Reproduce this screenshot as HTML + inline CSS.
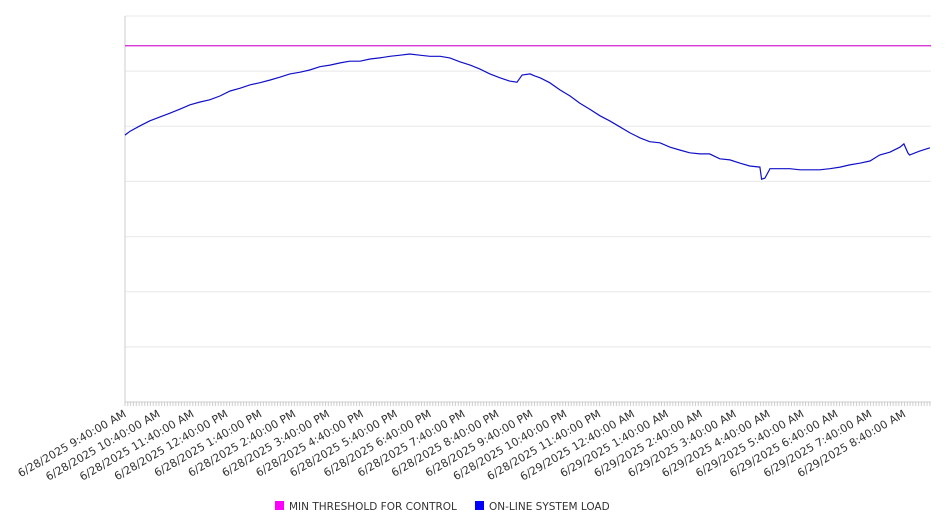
<!DOCTYPE html>
<html><head><meta charset="utf-8"><style>
body{margin:0;background:#fff;font-family:"DejaVu Sans","Liberation Sans",sans-serif}
</style></head><body>
<svg id="chart" width="946" height="526" xmlns="http://www.w3.org/2000/svg" font-family="DejaVu Sans, Liberation Sans, sans-serif"></svg>
<script>
const times=[0,9,27,44,62,80,97,115,133,150,168,186,204,221,239,257,274,292,310,327,345,363,381,398,416,434,451,469,487,504,522,540,558,575,593,611,628,646,664,681,694,703,717,726,735,752,770,788,805,823,841,858,876,894,912,929,947,965,982,1000,1018,1035,1053,1071,1089,1106,1124,1127,1133,1142,1159,1177,1195,1212,1230,1248,1266,1283,1301,1319,1336,1354,1372,1379,1386,1389,1407,1425];
const loadValues=[484,491,501,510,517,524,531,539,544,548,555,564,569,575,579,584,589,595,598,602,608,611,615,618,618,622,624,627,629,631,629,627,627,624,617,611,604,595,588,582,580,593,595,591,588,579,566,555,542,531,519,510,499,488,479,472,470,462,457,452,450,450,441,439,433,428,426,404,406,423,423,423,421,421,421,423,426,430,433,437,448,453,462,468,452,448,455,461];
const threshold=646;
const tickLabels=["6/28/2025 9:40:00 AM","6/28/2025 10:40:00 AM","6/28/2025 11:40:00 AM","6/28/2025 12:40:00 PM","6/28/2025 1:40:00 PM","6/28/2025 2:40:00 PM","6/28/2025 3:40:00 PM","6/28/2025 4:40:00 PM","6/28/2025 5:40:00 PM","6/28/2025 6:40:00 PM","6/28/2025 7:40:00 PM","6/28/2025 8:40:00 PM","6/28/2025 9:40:00 PM","6/28/2025 10:40:00 PM","6/28/2025 11:40:00 PM","6/29/2025 12:40:00 AM","6/29/2025 1:40:00 AM","6/29/2025 2:40:00 AM","6/29/2025 3:40:00 AM","6/29/2025 4:40:00 AM","6/29/2025 5:40:00 AM","6/29/2025 6:40:00 AM","6/29/2025 7:40:00 AM","6/29/2025 8:40:00 AM"];
const yTicks=[0,100,200,300,400,500,600,700];

const L=125,R=931,T=16,B=402,XMAX=1427,YMAX=700;
const xs=m=>L+(m/XMAX)*(R-L);
const ys=v=>B-(v/YMAX)*(B-T);
const svg=document.getElementById('chart');
const NS='http://www.w3.org/2000/svg';
function mk(tag,attrs,parent){const e=document.createElementNS(NS,tag);for(const k in attrs)e.setAttribute(k,attrs[k]);(parent||svg).appendChild(e);return e;}

yTicks.forEach(v=>{if(v===0)return;const g=mk('line',{x1:L,x2:R,y1:ys(v),y2:ys(v),stroke:'#e8e8e8','stroke-width':1});

});

const ax=mk('line',{x1:L,x2:L,y1:T,y2:B,stroke:'#ccc'});


const bx=mk('line',{x1:L,x2:R,y1:B,y2:B,stroke:'#ccc'});


for(let m=0;m<=XMAX;m+=5){const t=mk('line',{x1:xs(m),x2:xs(m),y1:B,y2:B+4,stroke:'#ccc'});

}
tickLabels.forEach((s,i)=>{const x=xs(i*60)+2;const t=mk('text',{x:x,y:B+14,'text-anchor':'end','font-size':11,fill:'#333',transform:`rotate(-30 ${x} ${B+14})`});t.textContent=s;

});

const th=mk('line',{x1:L,x2:R,y1:ys(threshold),y2:ys(threshold),stroke:'#d020d0','stroke-width':1.2});



const d=times.map((m,i)=>(i?'L':'M')+xs(m).toFixed(1)+' '+ys(loadValues[i]).toFixed(1)).join(' ');
const p=mk('path',{d:d,fill:'none',stroke:'#1010c8','stroke-width':1.2});



const lg=mk('g',{});


const r1=mk('rect',{x:275,y:501,width:9,height:9,fill:'#ff00ff'},lg);


const t1=mk('text',{x:289,y:510,'font-size':10.5,fill:'#333'},lg);t1.textContent='MIN THRESHOLD FOR CONTROL';


const r2=mk('rect',{x:475,y:501,width:9,height:9,fill:'#0000ff'},lg);


const t2=mk('text',{x:489,y:510,'font-size':10.5,fill:'#333'},lg);t2.textContent='ON-LINE SYSTEM LOAD';


</script>
</body></html>
